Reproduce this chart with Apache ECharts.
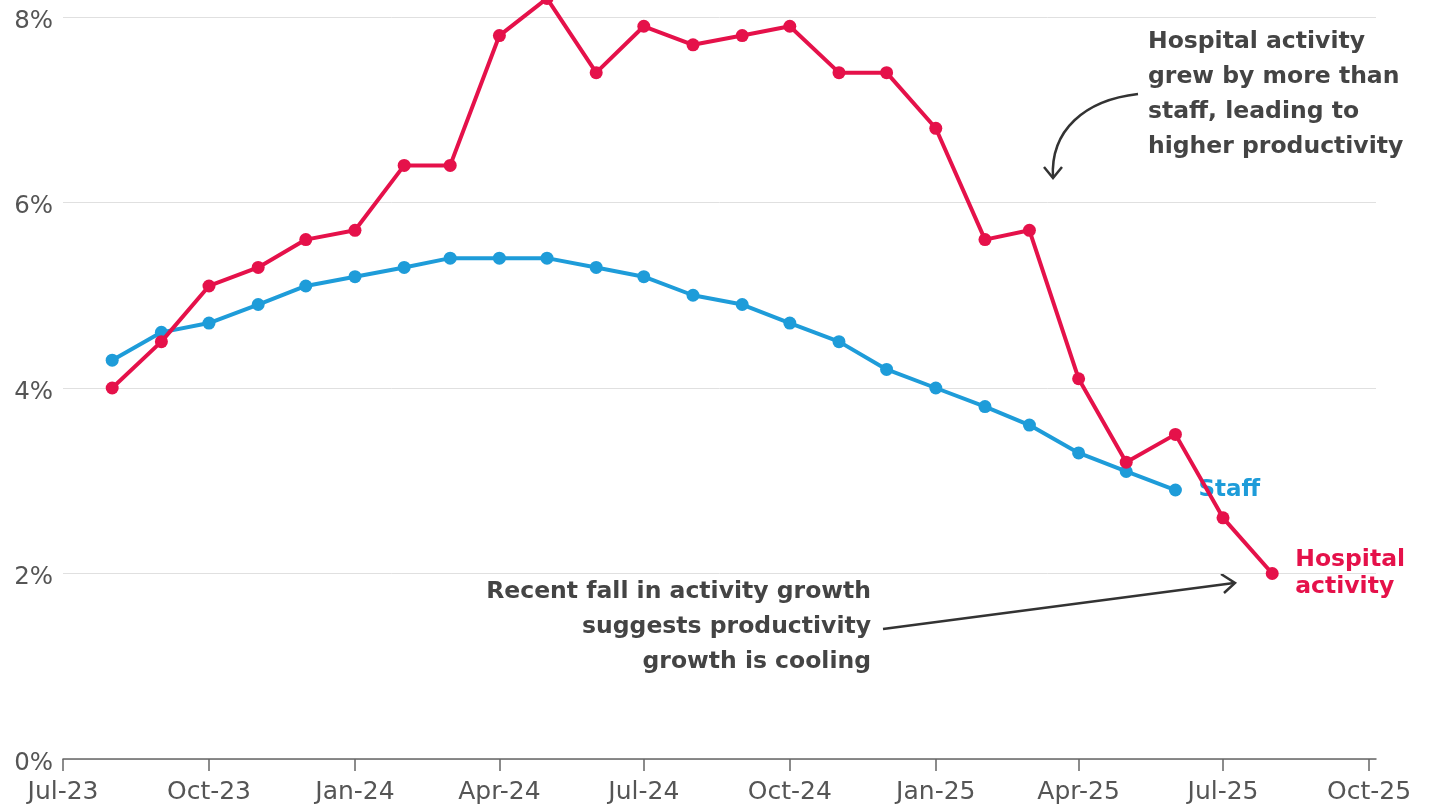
<!DOCTYPE html>
<html>
<head>
<meta charset="utf-8">
<script src="https://cdn.jsdelivr.net/npm/echarts@6/dist/echarts.min.js"></script>
<style>
  html, body { margin: 0; padding: 0; background: #fff; }
  #chart { width: 1440px; height: 805px; }
</style>
</head>
<body>
<div id="chart"></div>
<script>
// Monthly observations (first of each month), year-on-year growth in %
const months = ['2023-08','2023-09','2023-10','2023-11','2023-12','2024-01','2024-02','2024-03',
  '2024-04','2024-05','2024-06','2024-07','2024-08','2024-09','2024-10','2024-11','2024-12',
  '2025-01','2025-02','2025-03','2025-04','2025-05','2025-06','2025-07','2025-08'];
const hospitalActivity = [4.0, 4.5, 5.1, 5.3, 5.6, 5.7, 6.4, 6.4, 7.8, 8.2, 7.4, 7.9, 7.7, 7.8, 7.9,
  7.4, 7.4, 6.8, 5.6, 5.7, 4.1, 3.2, 3.5, 2.6, 2.0];
const staff = [4.3, 4.6, 4.7, 4.9, 5.1, 5.2, 5.3, 5.4, 5.4, 5.4, 5.3, 5.2, 5.0, 4.9, 4.7,
  4.5, 4.2, 4.0, 3.8, 3.6, 3.3, 3.1, 2.9];
const xTicks = ['2023-07','2023-10','2024-01','2024-04','2024-07','2024-10','2025-01','2025-04','2025-07','2025-10'];
const yTicks = [0, 2, 4, 6, 8];
const monthNames = ['Jan','Feb','Mar','Apr','May','Jun','Jul','Aug','Sep','Oct','Nov','Dec'];

// x positions are day counts from the start of July 2023
const DAY = 86400000;
const origin = Date.UTC(2023, 6, 1);
const toDay = s => { const [y, m] = s.split('-').map(Number); return (Date.UTC(y, m - 1, 1) - origin) / DAY; };
const pairs = vals => vals.map((v, i) => [toDay(months[i]), v]);
const tickDays = xTicks.map(toDay);
const tickLabel = d => {
  const s = xTicks[tickDays.indexOf(d)];
  if (!s) return '';
  const [y, m] = s.split('-');
  return monthNames[Number(m) - 1] + '-' + y.slice(2);
};

const RED = '#E5114A';
const BLUE = '#1E9CD9';
const FONT = '"DejaVu Sans", Inter, sans-serif';

const chart = echarts.init(document.getElementById('chart'), null, { renderer: 'canvas' });

chart.setOption({
  animation: false,
  backgroundColor: '#fff',
  grid: { left: 63, right: 64, top: 17, bottom: 45, containLabel: false },
  xAxis: {
    type: 'value',
    min: 0,
    max: toDay('2025-10') + 4.4,
    axisLine: { show: true, lineStyle: { color: '#666', width: 1.5 } },
    axisTick: { show: true, length: 12, customValues: tickDays, lineStyle: { color: '#666', width: 1.5 } },
    axisLabel: {
      customValues: tickDays,
      margin: 21,
      fontFamily: FONT, fontSize: 25, color: '#555',
      formatter: tickLabel
    },
    splitLine: { show: false }
  },
  yAxis: {
    type: 'value',
    min: 0, max: 8, interval: 2,
    axisLine: { show: false },
    axisTick: { show: false },
    axisLabel: {
      margin: 10,
      formatter: v => yTicks.includes(v) ? '{p|' + v + '%}' : '',
      rich: {
        p: { fontFamily: FONT, fontSize: 24.5, color: '#555', padding: [9, 0, 0, 0] }
      }
    },
    splitLine: { lineStyle: { color: '#e0e0e0', width: 1 } }
  },
  series: [
    {
      name: 'Staff',
      type: 'line',
      data: pairs(staff),
      clip: false,
      symbol: 'circle', symbolSize: 13,
      lineStyle: { color: BLUE, width: 4 },
      itemStyle: { color: BLUE },
      endLabel: {
        show: true, distance: 23,
        formatter: 'Staff',
        fontFamily: FONT, fontSize: 23, fontWeight: 'bold', color: BLUE,
        padding: [3, 0, 0, 0]
      },
      z: 2
    },
    {
      name: 'Hospital activity',
      type: 'line',
      data: pairs(hospitalActivity),
      clip: false,
      symbol: 'circle', symbolSize: 13,
      lineStyle: { color: RED, width: 4 },
      itemStyle: { color: RED },
      endLabel: {
        show: true, distance: 23,
        formatter: 'Hospital\nactivity',
        fontFamily: FONT, fontSize: 23.5, fontWeight: 'bold', color: RED, lineHeight: 27
      },
      z: 3
    }
  ],
  graphic: [
    {
      type: 'text',
      style: {
        x: 1148, y: 25,
        text: 'Hospital activity\ngrew by more than\nstaff, leading to\nhigher productivity',
        font: 'bold 23.5px ' + FONT, fill: '#444', lineHeight: 34.7
      }
    },
    {
      type: 'bezierCurve',
      shape: { x1: 1138, y1: 94, cpx1: 1085, cpy1: 100, cpx2: 1050, cpy2: 130, x2: 1053, y2: 178 },
      style: { stroke: '#333', lineWidth: 2.5, fill: null }
    },
    {
      type: 'polyline',
      shape: { points: [[1044, 167], [1053, 178], [1062, 167]] },
      style: { stroke: '#333', lineWidth: 2.5, fill: null }
    },
    {
      type: 'text',
      style: {
        x: 871, y: 574,
        text: 'Recent fall in activity growth\nsuggests productivity\ngrowth is cooling',
        font: 'bold 23.5px ' + FONT, fill: '#444', lineHeight: 35, align: 'right'
      }
    },
    {
      type: 'line',
      shape: { x1: 883, y1: 629, x2: 1234, y2: 583 },
      style: { stroke: '#333', lineWidth: 2.5 }
    },
    {
      type: 'polyline',
      shape: { points: [[1221, 574], [1235, 583], [1224, 593]] },
      style: { stroke: '#333', lineWidth: 2.5, fill: null }
    }
  ]
});
</script>
</body>
</html>
